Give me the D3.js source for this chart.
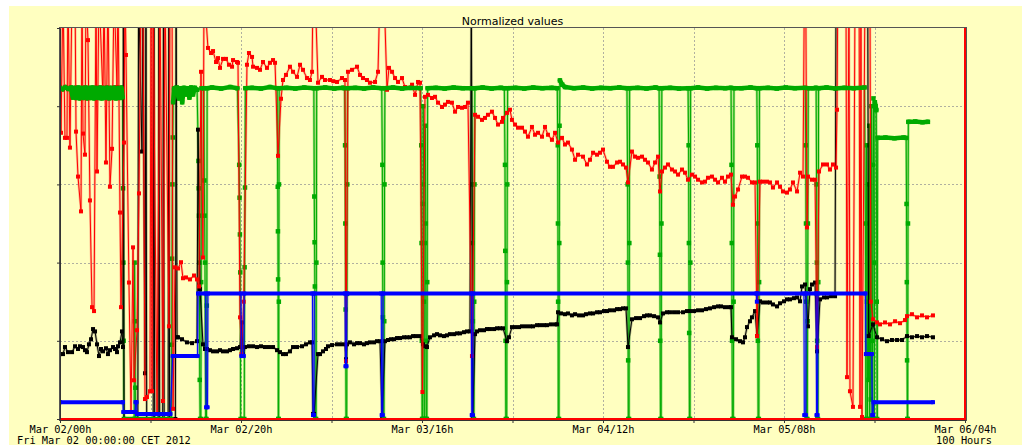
<!DOCTYPE html>
<html>
<head>
<meta charset="utf-8">
<script src="https://cdn.jsdelivr.net/npm/d3@7/dist/d3.min.js"></script>
<style>
  html, body { margin: 0; padding: 0; background: #ffffff; }
  svg { display: block; }
</style>
</head>
<body>
<svg id="chart" width="1022" height="445"></svg>
<script>
// ---- Labels -------------------------------------------------------------
const TITLE = "Normalized values";
const START_LABEL = "Fri Mar 02 00:00:00 CET 2012";
const SPAN_LABEL = "100 Hours";

// Hours since Fri Mar 02 00:00 CET
const tickHours  = [0, 10, 20, 30, 40, 50, 60, 70, 80, 90, 100];
const tickLabels = {0: "Mar 02/00h", 20: "Mar 02/20h", 40: "Mar 03/16h",
                    60: "Mar 04/12h", 80: "Mar 05/08h", 100: "Mar 06/04h"};
const gridHours  = [10, 20, 30, 40, 50, 60, 70, 80, 90];
const gridValues = [0.2, 0.4, 0.6, 0.8];
const yTicks     = [0, 0.2, 0.4, 0.6, 0.8, 1];

// ---- Series: [hour, normalized value]; values above 1 run off the top ----
const greenSeries = [
  [0,.848],[0.3,.843],[0.6,.849],[0.9,.844],[1.2,.848],[1.4,.822],[1.6,.847],[1.8,.821],[2.0,.848],[2.2,.82],
  [2.4,.847],[2.6,.821],[2.8,.848],[3.0,.82],[3.2,.847],[3.4,.821],[3.6,.848],[3.8,.82],[4.0,.847],[4.2,.821],
  [4.4,.848],[4.6,.82],[4.8,.847],[5.0,.821],[5.2,.848],[5.4,.82],[5.6,.847],[5.8,.821],[6.0,.848],[6.2,.82],
  [6.4,.847],[6.6,.821],[6.8,.848],[6.93,.822],
  [6.97,.59],[7.0,.4],[7.03,.2],[7.06,0],[8.2,0],[8.24,.4],[8.28,.25],[8.32,.08],[8.36,0],[12.3,0],
  [12.34,.19],[12.38,.41],[12.42,.6],[12.46,.72],[12.5,.81],[12.6,.846],
  [12.9,.848],[13.1,.82],[13.3,.846],[13.5,.81],[13.7,.847],[13.9,.83],[14.1,.846],[14.3,.822],[14.5,.848],
  [14.7,.83],[14.9,.847],[15.15,.842],
  [15.3,.66],[15.33,.59],[15.36,.52],[15.4,.4],[15.44,.1],[15.48,0],[15.56,0],[15.6,.35],[15.64,.846],
  [15.9,.846],[15.95,.61],[15.98,.52],[16.02,.4],[16.06,.18],[16.1,0],[16.18,0],[16.22,.29],[16.26,.846],
  [16.8,.848],[17.8,.845],[18.8,.849],[19.6,.846],
  [19.8,.65],[19.84,.566],[19.88,.472],[19.92,.375],[19.96,0],[20.36,0],[20.4,.388],[20.44,.592],[20.48,.846],
  [21.2,.847],[22.2,.845],[23.2,.849],[24.0,.846],
  [24.06,.594],[24.08,.48],[24.1,.357],[24.12,0],[24.16,0],[24.18,.3],[24.2,.6],[24.22,.846],
  [25,.847],[26,.845],[27,.848],[28.05,.846],
  [28.1,.569],[28.13,.452],[28.16,.339],[28.2,0],[28.3,0],[28.33,.4],[28.36,.846],
  [29.3,.848],[30.3,.845],[31.3,.847],[31.45,.846],
  [31.5,.7],[31.53,.5],[31.56,.28],[31.6,0],[31.68,0],[31.71,.32],[31.74,.6],[31.78,.846],
  [32.6,.847],[33.6,.845],[34.6,.848],[35.55,.846],
  [35.62,.65],[35.65,.4],[35.68,.26],[35.72,0],[35.8,0],[35.83,.25],[35.86,.6],[35.9,.846],
  [36.8,.848],[37.8,.845],[38.8,.847],[39.85,.846],
  [39.92,.7],[39.95,.45],[39.98,.2],[40.01,0],[40.07,0],[40.1,.55],[40.13,.8],[40.18,.6],[40.21,.3],[40.24,0],
  [40.3,0],[40.33,.45],[40.37,.75],[40.42,.5],[40.45,.2],[40.48,0],[40.54,0],[40.58,.35],[40.62,.846],
  [41.5,.847],[42.5,.845],[43.5,.848],[44.5,.846],[45.5,.846],
  [45.56,.6],[45.59,.45],[45.62,.25],[45.66,0],[45.74,0],[45.77,.3],[45.8,.6],[45.84,.846],
  [46.7,.848],[47.7,.845],[48.7,.847],[49.1,.846],
  [49.17,.65],[49.2,.43],[49.23,.2],[49.26,0],[49.36,0],[49.39,.35],[49.42,.6],[49.46,.846],
  [50.3,.847],[51.3,.845],[52.3,.848],[53.3,.846],[54.3,.847],[54.95,.846],
  [55.0,.7],[55.02,.5],[55.04,.3],[55.06,0],[55.14,0],[55.17,.45],[55.2,.75],[55.24,.866],[55.5,.855],[55.8,.849],
  [56.8,.846],[57.8,.848],[58.8,.845],[59.8,.847],[60.8,.846],[61.8,.848],[62.65,.846],
  [62.72,.6],[62.75,.4],[62.78,.15],[62.8,0],[62.88,0],[62.91,.45],[62.94,.846],
  [63.8,.847],[64.8,.845],[65.8,.848],[66.2,.846],
  [66.26,.62],[66.29,.42],[66.32,.2],[66.35,0],[66.43,0],[66.46,.5],[66.5,.846],
  [67.4,.847],[68.4,.845],[69.4,.846],
  [69.46,.7],[69.49,.45],[69.52,.22],[69.55,0],[69.62,0],[69.65,.4],[69.68,.846],
  [70.5,.848],[71.5,.845],[72.5,.847],[73.5,.846],[74.15,.847],
  [74.2,.65],[74.23,.45],[74.26,.2],[74.3,0],[74.4,0],[74.43,.3],[74.47,.846],
  [75.3,.846],[76.3,.848],[77.0,.846],
  [77.05,.7],[77.08,.5],[77.11,.2],[77.14,0],[77.22,0],[77.25,.35],[77.29,.846],
  [78.2,.847],[79.2,.845],[80.2,.848],[81.2,.846],[82.35,.847],
  [82.4,.7],[82.43,.5],[82.46,.3],[82.49,0],[82.58,0],[82.61,.25],[82.64,.5],[82.68,.846],
  [83.2,.846],[83.55,.847],
  [83.6,.6],[83.63,.4],[83.66,.2],[83.69,0],[83.76,0],[83.79,.35],[83.82,.846],
  [84.7,.848],[85.7,.845],[86.7,.847],[87.7,.846],[88.9,.848],
  [89.0,.5],[89.05,0],[89.12,.7],[89.17,.3],[89.22,0],[89.3,.6],[89.35,.1],[89.42,.75],[89.47,0],[89.54,.45],
  [89.59,.05],[89.66,.8],[89.71,.2],[89.76,0],[89.82,.65],[89.88,.82],[89.93,.4],[89.98,0],[90.04,.81],
  [90.12,.8],[90.2,.79],[90.25,.3],[90.3,0],[90.35,.719],
  [91.2,.72],[92.2,.718],[93.2,.72],[93.5,.719],
  [93.54,.55],[93.57,.35],[93.6,.15],[93.63,0],[93.67,0],[93.7,.5],[93.74,.76],
  [94.5,.761],[95.3,.759],[95.9,.76]
];

const blackSeries = [
  [0,.166],[0.33,.166],[0.55,.184],[0.88,.171],[1.33,.171],[1.66,.186],[1.99,.179],[2.21,.186],[2.54,.184],
  [2.76,.176],[2.98,.171],[3.2,.191],[3.43,.204],[3.65,.23],[3.87,.224],[4.09,.191],[4.31,.161],[4.53,.179],
  [4.75,.173],[5.08,.181],[5.3,.166],[5.52,.176],[5.86,.184],[6.08,.179],[6.3,.171],[6.41,.186],[6.63,.196],
  [6.85,.224],[6.96,.184],
  [7.0,1.1],[7.08,0],[8.6,0],[8.68,1.1],[9.06,.684],[9.17,1.1],[9.39,.117],[9.5,1.1],[9.58,0],[10.3,0],
  [10.38,1.1],[10.46,0],[10.85,0],[10.93,1.1],[11.01,0],[11.35,0],[11.43,1.1],[11.51,0],[11.95,0],[12.03,1.1],
  [12.11,0],[12.75,0],[12.83,1.1],
  [12.93,.209],[13.04,.209],[13.48,.204],[14.03,.196],[14.59,.194],[15.14,.199],[15.25,.74],[15.47,.332],
  [15.8,.191],[16.02,.179],[16.24,.179],[16.57,.176],[16.91,.173],[17.35,.173],[17.68,.176],[18.01,.173],
  [18.45,.173],[18.78,.176],[19.12,.179],[19.56,.181],[19.89,.184],[20.11,.247],[20.22,.166],[20.44,.184],
  [20.88,.186],[21.33,.186],[21.77,.184],[22.21,.186],[22.65,.184],[23.09,.184],[23.54,.184],[23.98,.176],
  [24.31,.171],[24.64,.166],[24.97,.166],[25.41,.173],[25.75,.184],[26.19,.184],[26.74,.186],[27.18,.191],
  [27.62,.196],[27.85,.196],[27.96,.013],[28.07,.013],[28.51,.166],[28.73,.166],[29.06,.173],[29.39,.179],
  [29.61,.186],[30.06,.189],[30.61,.191],[31.05,.191],[31.49,.191],[31.6,.153],[31.71,.191],[32.04,.196],
  [32.49,.191],[32.82,.194],[33.15,.194],[33.59,.191],[33.92,.194],[34.25,.196],[34.7,.196],[35.03,.199],
  [35.36,.199],[35.58,.008],[35.91,.199],[36.24,.202],[36.57,.204],[36.91,.204],[37.24,.207],[37.57,.207],
  [38.01,.209],[38.34,.209],[38.67,.209],[39.01,.212],[39.34,.212],[39.78,.212],[40.11,.191],[40.33,.186],
  [40.55,.184],[40.88,.209],[41.33,.214],[41.66,.217],[41.99,.214],[42.43,.212],[42.76,.214],[43.09,.217],
  [43.54,.217],[43.87,.219],[44.2,.219],[44.64,.222],[44.97,.224],[45.3,.224],[45.45,1.1],[45.6,.008],
  [45.86,.217],[46.08,.224],[46.41,.227],[46.85,.227],[47.18,.23],[47.51,.23],[47.96,.23],[48.29,.232],
  [48.62,.232],[48.95,.232],[49.39,.199],[49.61,.209],[49.94,.235],[50.28,.235],[50.72,.235],[51.05,.237],
  [51.49,.237],[51.93,.237],[52.27,.237],[52.71,.24],[53.04,.24],[53.48,.24],[53.81,.24],[54.25,.242],
  [54.7,.242],[54.92,.242],[55.03,.273],[55.36,.27],[55.8,.268],[56.13,.27],[56.57,.265],[56.91,.268],
  [57.35,.265],[57.79,.265],[58.12,.268],[58.56,.27],[58.9,.27],[59.34,.273],[59.67,.273],[60.11,.276],
  [60.44,.276],[60.77,.278],[61.22,.278],[61.55,.281],[61.88,.281],[62.21,.283],[62.54,.283],[62.76,.184],
  [63.2,.255],[63.65,.258],[64.09,.258],[64.53,.263],[64.86,.265],[65.19,.265],[65.64,.263],[66.08,.26],
  [66.3,.247],[66.63,.27],[67.07,.273],[67.4,.273],[67.85,.273],[68.29,.273],[68.84,.273],[69.28,.276],
  [69.61,.276],[70.06,.276],[70.5,.278],[70.94,.278],[71.38,.281],[71.82,.283],[72.27,.286],[72.71,.288],
  [73.04,.288],[73.48,.286],[73.92,.286],[74.14,.286],[74.25,.209],[74.7,.204],[75.14,.199],[75.47,.196],
  [75.69,.209],[75.91,.235],[76.24,.25],[76.46,.26],[76.8,.276],[77.02,.212],[77.35,.301],[77.68,.298],
  [78.12,.298],[78.45,.298],[78.78,.293],[79.23,.288],[79.56,.296],[80.0,.301],[80.33,.306],[80.66,.306],
  [81.1,.309],[81.44,.311],[81.77,.301],[81.99,.339],[82.32,.344],[82.65,.237],[82.87,.332],[83.09,.344],
  [83.43,.349],[83.65,.173],[83.98,.306],[84.42,.311],[84.75,.311],[85.19,.314],[85.64,.314],[85.75,1.1],
  [89.25,1.1],[89.35,.212],[89.83,.242],[90.28,.209],[90.83,.204],[91.38,.199],[91.93,.202],[92.49,.202],
  [93.04,.202],[93.59,.212],[94.14,.209],[94.7,.212],[95.25,.209],[95.8,.212],[96.46,.209]
];

const redSeries = [
  [0,1.1],[0.11,.732],[0.33,1.1],[0.55,.719],[0.77,.719],[0.88,1.1],[1.1,.694],[1.33,1.1],[1.66,1.1],[1.77,.735],
  [1.99,.62],[2.32,.531],[2.43,1.1],[2.54,.73],[2.76,.676],[2.87,1.1],[3.09,.969],[3.31,.559],[3.54,.286],
  [3.76,.276],[3.98,1.1],[4.09,.633],[4.31,1.1],[4.75,.824],[4.86,1.1],[5.08,.656],[5.3,1.1],[5.52,.594],
  [5.75,.691],[5.97,1.1],[6.3,.849],[6.41,1.1],[6.63,.528],[6.74,.286],[7.07,.707],[7.18,1.1],[7.29,.931],
  [7.62,.349],[7.85,.018],[8.07,.439],[8.18,.099],[8.51,.227],[8.73,.577],[8.95,1.1],[9.17,1.1],[9.39,.051],
  [9.61,.056],[9.94,.071],[10.06,1.1],[10.17,.071],[10.28,1.1],[10.72,.013],[11.05,1.1],[11.38,.046],[11.6,1.1],
  [12.04,.237],[12.15,1.1],[12.38,1.1],[12.49,.026],[12.71,.388],[13.04,.385],[13.37,.401],[13.59,.36],
  [13.92,.362],[14.36,.357],[14.81,.367],[15.14,.357],[15.36,.339],[15.58,.888],[15.8,.413],[15.91,1.1],
  [16.35,.949],[16.69,.936],[16.91,.941],[17.24,.913],[17.46,.923],[17.68,.898],[18.01,.921],[18.34,.921],
  [18.67,.906],[19.01,.901],[19.12,.918],[19.56,.913],[19.67,.911],[19.89,.26],[20.05,.166],[20.3,.3],
  [20.66,.906],[20.88,.936],[21.22,.926],[21.33,.901],[21.77,.898],[22.1,.893],[22.43,.913],[22.87,.898],
  [23.2,.911],[23.54,.918],[23.76,.911],[24.09,.673],[24.42,.819],[24.64,.867],[24.97,.88],[25.41,.901],
  [25.75,.888],[26.19,.875],[26.52,.906],[26.85,.893],[27.29,.872],[27.62,.867],[27.85,.888],[27.96,1.1],
  [28.18,1.1],[28.51,.86],[28.95,.875],[29.28,.867],[29.83,.867],[30.2,.864],[30.61,.862],[31.16,.872],
  [31.49,.867],[31.6,.148],[31.82,.888],[32.27,.893],[32.82,.901],[33.15,.88],[33.48,.872],[33.92,.867],
  [34.25,.86],[34.81,.862],[35.14,.888],[35.36,1.1],[35.8,1.1],[36.13,.842],[36.35,.898],[36.69,.888],
  [37.02,.872],[37.35,.862],[37.79,.872],[38.12,.849],[38.45,.847],[38.9,.855],[39.23,.829],[39.56,.862],
  [39.78,.86],[40.05,.069],[40.33,.824],[40.66,.829],[41.1,.821],[41.44,.824],[41.77,.809],[42.21,.798],
  [42.54,.804],[42.87,.811],[43.31,.809],[43.65,.786],[43.98,.798],[44.42,.796],[44.75,.798],[45.08,.809],
  [45.52,.161],[45.86,.778],[46.19,.773],[46.63,.765],[46.96,.77],[47.29,.778],[47.73,.786],[48.07,.77],
  [48.4,.753],[48.84,.76],[48.95,.77],[49.39,.783],[49.72,.791],[49.94,.765],[50.28,.753],[50.61,.745],
  [51.05,.745],[51.38,.735],[51.71,.722],[52.15,.747],[52.49,.727],[52.82,.732],[53.26,.722],[53.59,.747],
  [53.92,.727],[54.36,.714],[54.7,.732],[55.03,.707],[55.47,.719],[55.8,.702],[56.13,.707],[56.57,.689],
  [56.91,.663],[57.24,.676],[57.79,.671],[58.23,.651],[58.56,.663],[58.9,.681],[59.34,.676],[59.67,.681],
  [60.0,.689],[60.44,.658],[60.77,.645],[61.1,.645],[61.55,.656],[61.88,.658],[62.21,.651],[62.54,.643],
  [62.76,.605],[63.2,.684],[63.54,.671],[63.87,.668],[64.31,.671],[64.64,.663],[64.97,.656],[65.41,.638],
  [65.75,.656],[66.08,.671],[66.3,.582],[66.52,.633],[66.85,.643],[67.18,.651],[67.62,.638],[67.96,.633],
  [68.29,.625],[68.73,.638],[69.06,.63],[69.39,.612],[69.83,.625],[70.17,.62],[70.5,.612],[70.94,.605],
  [71.27,.607],[71.6,.617],[72.04,.62],[72.38,.612],[72.71,.605],[73.15,.617],[73.48,.607],[73.81,.62],
  [74.14,.625],[74.36,.548],[74.59,.569],[74.92,.587],[75.36,.62],[75.69,.62],[76.02,.617],[76.46,.605],
  [76.8,.605],[77.02,.212],[77.35,.607],[77.68,.607],[78.12,.607],[78.45,.605],[78.78,.592],[79.23,.605],
  [79.56,.594],[79.89,.582],[80.33,.579],[80.66,.587],[80.99,.605],[81.44,.582],[81.77,.63],[82.1,.62],
  [82.25,1.1],[82.4,1.1],[82.54,.49],[82.65,.62],[83.09,.612],[83.43,.612],[83.65,.184],[83.87,.633],
  [84.31,.651],[84.75,.651],[85.08,.638],[85.41,.651],[85.75,.643],[85.86,.791],[85.95,1.1],[86.85,1.1],
  [86.96,.107],[87.18,1.1],[87.29,.071],[87.62,.031],[87.85,1.1],[88.3,1.1],[88.4,.031],[88.5,1.1],
  [88.62,.005],[88.95,1.1],[89.5,1.1],[89.6,.3],[89.83,.255],[90.28,.247],[90.61,.242],[91.16,.247],
  [91.71,.242],[92.27,.25],[92.82,.245],[93.37,.253],[93.59,.263],[94.14,.268],[94.7,.26],[95.25,.265],
  [95.8,.26],[96.46,.265]
];

const blueSeries = [
  [0,.043],[6.95,.043],[7.0,.018],[8.3,.018],[8.35,.043],[8.45,.043],[8.5,.013],[12.2,.013],[12.45,.161],
  [15.2,.161],[15.25,.321],[16.1,.321],[16.15,.03],[16.3,.03],[16.35,.321],[20.0,.321],[20.05,.161],
  [20.3,.161],[20.35,.321],[27.9,.321],[27.96,.01],[28.05,.01],[28.1,.321],[31.5,.321],[31.55,.135],
  [31.65,.135],[31.7,.321],[35.5,.321],[35.55,.01],[35.65,.01],[35.7,.321],[45.45,.321],[45.5,.01],
  [45.6,.01],[45.65,.321],[76.95,.321],[77.0,.3],[77.05,.321],[82.2,.321],[82.25,.01],[82.4,.01],
  [82.45,.321],[83.55,.321],[83.6,.01],[83.7,.01],[83.75,.321],[89.0,.321],[89.05,.166],[89.7,.166],
  [89.75,.01],[89.85,.01],[89.9,.043],[96.46,.043]
];

// Zero reference trace closing on the right edge
const redBaseSeries = [[0, 0], [100, 0], [100, 1]];

// ---- Layout ---------------------------------------------------------------
const svg = d3.select("#chart");
svg.append("rect").attr("x", 9).attr("y", 6).attr("width", 1013).attr("height", 439).attr("fill", "#ffffc0");

const x = d3.scaleLinear().domain([0, 100]).range([60, 965]);
const y = d3.scaleLinear().domain([0, 1]).range([419, 28]);

// Grid
const grid = svg.append("g").attr("stroke", "#b0b0a0").attr("stroke-width", 1).attr("stroke-dasharray", "2,2");
grid.selectAll(".gx").data(gridHours).join("line")
  .attr("x1", d => Math.round(x(d)) + 0.5).attr("x2", d => Math.round(x(d)) + 0.5)
  .attr("y1", 28).attr("y2", 420);
grid.selectAll(".gy").data(gridValues).join("line")
  .attr("y1", d => Math.round(y(d)) + 0.5).attr("y2", d => Math.round(y(d)) + 0.5)
  .attr("x1", 60).attr("x2", 966);

// Plot clip
svg.append("clipPath").attr("id", "plotClip")
  .append("rect").attr("x", 59).attr("y", 28).attr("width", 908).attr("height", 393);
const plot = svg.append("g").attr("clip-path", "url(#plotClip)");

const line = d3.line().x(d => x(d[0])).y(d => y(d[1]));

// Thin trace with a soft halo plus square point markers
function drawTrace(data, spec) {
  const g = plot.append("g");
  if (spec.halo) {
    g.append("path").attr("d", line(data)).attr("fill", "none")
      .attr("stroke", spec.color).attr("stroke-opacity", spec.halo).attr("stroke-width", 2.5)
      .attr("stroke-linejoin", "round");
  }
  g.append("path").attr("d", line(data)).attr("fill", "none")
    .attr("stroke", spec.color).attr("stroke-width", spec.width || 1);
  if (spec.marker) {
    const s = spec.marker;
    g.selectAll("rect").data(data.filter(d => d[1] <= 1.01)).join("rect")
      .attr("x", d => x(d[0]) - s / 2).attr("y", d => y(d[1]) - s / 2)
      .attr("width", s).attr("height", s).attr("fill", spec.color);
  }
}

// Level stretches (nearly equal consecutive readings) drawn as a heavy band
function drawLevels(data, color, width, tol) {
  const runs = d3.pairs(data).filter(([a, b]) => Math.abs(a[1] - b[1]) < tol);
  plot.append("path").attr("d", runs.map(p => line(p)).join(""))
    .attr("fill", "none").attr("stroke", color)
    .attr("stroke-width", width).attr("stroke-linecap", "round").attr("stroke-linejoin", "round");
}

drawTrace(greenSeries, {color: "#00aa00", halo: 0.4, marker: 4.5});
drawTrace(blackSeries, {color: "#000000", halo: 0.28, marker: 4});
drawTrace(redSeries,   {color: "#ff0000", halo: 0.25, marker: 4});
drawLevels(greenSeries, "#00aa00", 4.5, 0.045);
drawTrace(blueSeries,  {color: "#0000ff", halo: 0.3, marker: 4});
drawLevels(blueSeries, "#0000ff", 4, 0.005);
drawTrace(redBaseSeries, {color: "#ff0000", width: 2});

// Frame
svg.append("rect").attr("x", 59.5).attr("y", 27.5).attr("width", 907).attr("height", 393)
  .attr("fill", "none").attr("stroke", "#555555");

// Axes
const xAxis = d3.axisBottom(x).tickValues(tickHours)
  .tickFormat(d => tickLabels[d] || "").tickSize(3).tickSizeOuter(0);
const gx = svg.append("g").attr("transform", "translate(0,420)").call(xAxis);
gx.select(".domain").attr("stroke", "#333");
gx.selectAll(".tick line").attr("stroke", "#333");
gx.selectAll("text").attr("font-family", "'DejaVu Sans Mono', monospace")
  .attr("font-size", "10.3px").attr("fill", "#000");

const yAxis = d3.axisLeft(y).tickValues(yTicks).tickFormat("").tickSize(3).tickSizeOuter(0);
const gy = svg.append("g").attr("transform", "translate(60,0)").call(yAxis);
gy.select(".domain").attr("stroke", "#333");
gy.selectAll(".tick line").attr("stroke", "#333");

// Texts
svg.append("text").attr("x", 512.5).attr("y", 25).attr("text-anchor", "middle")
  .attr("font-family", "'DejaVu Sans', sans-serif").attr("font-size", "11px").attr("fill", "#000")
  .text(TITLE);
svg.append("text").attr("x", 17).attr("y", 444)
  .attr("font-family", "'DejaVu Sans Mono', monospace").attr("font-size", "10.3px").attr("fill", "#000")
  .text(START_LABEL);
svg.append("text").attr("x", 964).attr("y", 444).attr("text-anchor", "middle")
  .attr("font-family", "'DejaVu Sans Mono', monospace").attr("font-size", "10.3px").attr("fill", "#000")
  .text(SPAN_LABEL);
</script>
</body>
</html>
